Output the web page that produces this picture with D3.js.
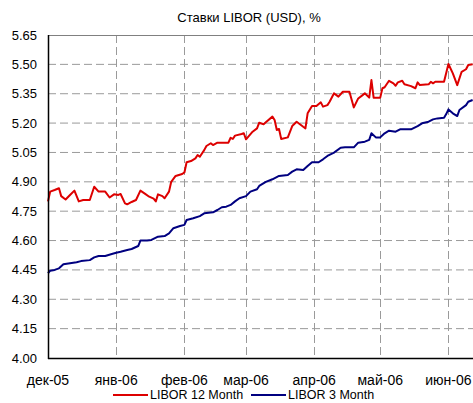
<!DOCTYPE html>
<html>
<head>
<meta charset="utf-8">
<script src="https://cdn.jsdelivr.net/npm/d3@7"></script>
<style>
  body { margin: 0; background: #fff; }
  svg { display: block; font-family: Arial, "Liberation Sans", sans-serif; }
</style>
</head>
<body>
<div id="chart"></div>
<script>
// LIBOR (USD) chart, dec-05 .. jun-06
// days are counted from 1 Dec 2005

var title = "Ставки LIBOR (USD), %";
var seriesNames = ["LIBOR 12 Month", "LIBOR 3 Month"];
var seriesColors = ["#dd0000", "#000080"];
var monthLabels = ["дек-05", "янв-06", "фев-06", "мар-06", "апр-06", "май-06", "июн-06"];
var yTicks = [4.00, 4.15, 4.30, 4.45, 4.60, 4.75, 4.90, 5.05, 5.20, 5.35, 5.50, 5.65];

var days12 = [0, 1, 3, 5, 6, 8, 10, 12, 14, 16, 19, 21, 23, 26, 28, 30, 32, 33, 35, 36,
  38, 40, 42, 44, 46, 48, 49, 50, 52, 53, 55, 56, 58, 61, 62, 63, 65, 67, 68, 69,
  71, 72, 74, 75, 77, 82, 83, 84, 85, 88, 89, 90, 93, 95, 96, 98, 99, 102, 103, 104,
  105, 106, 109, 111, 113, 116, 117, 118, 120, 122, 124, 125, 127, 128, 130, 132, 134, 137, 139, 141,
  143, 144, 146, 147, 148, 151, 152, 153, 155, 157, 158, 159, 161, 162, 165, 167, 168, 169, 173, 174,
  175, 176, 180, 182, 184, 186, 188, 190, 191, 193];
var rate12 = [4.800, 4.850, 4.858, 4.867, 4.827, 4.810, 4.833, 4.855, 4.800, 4.807, 4.807, 4.875, 4.850, 4.850, 4.820, 4.836, 4.833, 4.838, 4.790, 4.785,
  4.797, 4.807, 4.855, 4.840, 4.824, 4.814, 4.800, 4.836, 4.827, 4.816, 4.850, 4.900, 4.930, 4.940, 4.948, 5.000, 5.006, 5.020, 5.037, 5.028,
  5.062, 5.083, 5.097, 5.088, 5.100, 5.100, 5.125, 5.119, 5.136, 5.144, 5.148, 5.117, 5.156, 5.173, 5.202, 5.194, 5.204, 5.233, 5.216, 5.165,
  5.170, 5.119, 5.127, 5.185, 5.207, 5.181, 5.173, 5.250, 5.287, 5.287, 5.306, 5.284, 5.292, 5.309, 5.352, 5.335, 5.360, 5.360, 5.280, 5.326,
  5.343, 5.352, 5.330, 5.420, 5.330, 5.330, 5.378, 5.383, 5.416, 5.403, 5.391, 5.408, 5.416, 5.398, 5.389, 5.378, 5.408, 5.394, 5.398, 5.411,
  5.403, 5.411, 5.411, 5.502, 5.454, 5.394, 5.462, 5.475, 5.497, 5.500];

var days3 = [0, 1, 3, 5, 7, 10, 13, 15, 19, 21, 23, 26, 29, 31, 33, 36, 38, 41, 42, 45,
  47, 50, 53, 55, 57, 60, 62, 63, 66, 69, 71, 75, 77, 79, 81, 83, 85, 87, 90, 92,
  95, 96, 99, 102, 105, 109, 111, 113, 116, 118, 120, 123, 125, 127, 130, 133, 135, 139, 141, 144,
  146, 147, 149, 151, 153, 155, 158, 160, 165, 168, 170, 173, 175, 177, 180, 181, 182, 184, 186, 187,
  190, 191, 193];
var rate3 = [4.433, 4.446, 4.450, 4.458, 4.479, 4.484, 4.489, 4.495, 4.500, 4.514, 4.521, 4.521, 4.531, 4.538, 4.543, 4.552, 4.557, 4.572, 4.600, 4.600,
  4.603, 4.620, 4.623, 4.637, 4.663, 4.674, 4.680, 4.705, 4.714, 4.725, 4.739, 4.744, 4.756, 4.770, 4.773, 4.782, 4.800, 4.816, 4.827, 4.850,
  4.862, 4.879, 4.900, 4.913, 4.930, 4.935, 4.952, 4.964, 4.960, 4.981, 5.000, 5.000, 5.015, 5.032, 5.049, 5.074, 5.076, 5.076, 5.100, 5.105,
  5.114, 5.148, 5.127, 5.127, 5.148, 5.161, 5.156, 5.168, 5.168, 5.185, 5.199, 5.207, 5.219, 5.224, 5.227, 5.246, 5.270, 5.250, 5.236, 5.267,
  5.292, 5.309, 5.318];

var width = 473, height = 403;
var margin = { top: 35, right: 0, bottom: 45, left: 48 };
var start = new Date(2005, 11, 1);

function toSeries(days, rates) {
  return days.map(function(d, i) { return { date: d3.timeHour.offset(start, d * 24), value: rates[i] }; });
}
var series = [toSeries(days12, rate12), toSeries(days3, rate3)];

var svg = d3.select("#chart").append("svg")
    .attr("width", width)
    .attr("height", height);

var x = d3.scaleTime()
    .domain([start, d3.timeHour.offset(start, 193.2 * 24)])
    .range([margin.left, width - margin.right]);
var y = d3.scaleLinear()
    .domain([4.00, 5.65])
    .range([height - margin.bottom, margin.top]);

var months = d3.timeMonth.range(start, new Date(2006, 6, 1));

// horizontal grid
svg.append("g").selectAll("line")
    .data(yTicks.filter(function(v) { return v > 4.0 && v < 5.65; }))
  .enter().append("line")
    .attr("x1", margin.left).attr("x2", width)
    .attr("y1", function(d) { return y(d); })
    .attr("y2", function(d) { return y(d); })
    .attr("stroke", "#9a9a9a")
    .attr("stroke-dasharray", "8,4");

// vertical grid at month starts
svg.append("g").selectAll("line")
    .data(months.slice(1))
  .enter().append("line")
    .attr("x1", function(d) { return Math.round(x(d)) + 0.5; })
    .attr("x2", function(d) { return Math.round(x(d)) + 0.5; })
    .attr("y1", y(5.65)).attr("y2", y(4.0))
    .attr("stroke", "#9a9a9a")
    .attr("stroke-dasharray", "8,4");

// top border
svg.append("line")
    .attr("x1", margin.left).attr("x2", width)
    .attr("y1", y(5.65) + 0.5).attr("y2", y(5.65) + 0.5)
    .attr("stroke", "#808080");

// lines
var line = d3.line()
    .x(function(d) { return x(d.date); })
    .y(function(d) { return y(d.value); });

series.forEach(function(s, i) {
  svg.append("path")
      .datum(s)
      .attr("fill", "none")
      .attr("stroke", seriesColors[i])
      .attr("stroke-width", 2)
      .attr("stroke-linejoin", "round")
      .attr("d", line);
});

// axes lines
svg.append("line")
    .attr("x1", margin.left + 0.5).attr("x2", margin.left + 0.5)
    .attr("y1", y(5.65)).attr("y2", y(4.0) + 1)
    .attr("stroke", "#000").attr("stroke-width", 1.5);
svg.append("line")
    .attr("x1", margin.left).attr("x2", width)
    .attr("y1", y(4.0) + 0.5).attr("y2", y(4.0) + 0.5)
    .attr("stroke", "#000").attr("stroke-width", 1.5);

// y labels
svg.append("g").selectAll("text")
    .data(yTicks)
  .enter().append("text")
    .attr("x", 37)
    .attr("y", function(d) { return y(d); })
    .attr("dy", "0.35em")
    .attr("text-anchor", "end")
    .attr("font-size", 13)
    .text(function(d) { return d3.format(".2f")(d); });

// x labels
svg.append("g").selectAll("text")
    .data(months)
  .enter().append("text")
    .attr("x", function(d) { return x(d); })
    .attr("y", 385)
    .attr("text-anchor", "middle")
    .attr("font-size", 14)
    .text(function(d, i) { return monthLabels[i]; });

// title
svg.append("text")
    .attr("x", 249)
    .attr("y", 22)
    .attr("text-anchor", "middle")
    .attr("font-size", 13)
    .text(title);

// legend
var legendX = [113, 251];
seriesNames.forEach(function(name, i) {
  var g = svg.append("g").attr("transform", "translate(" + legendX[i] + ",395)");
  g.append("line")
      .attr("x1", 0).attr("x2", 35)
      .attr("stroke", seriesColors[i]).attr("stroke-width", 2);
  g.append("text")
      .attr("x", 37).attr("dy", "0.35em")
      .attr("font-size", 12.5)
      .text(name);
});
</script>
</body>
</html>
